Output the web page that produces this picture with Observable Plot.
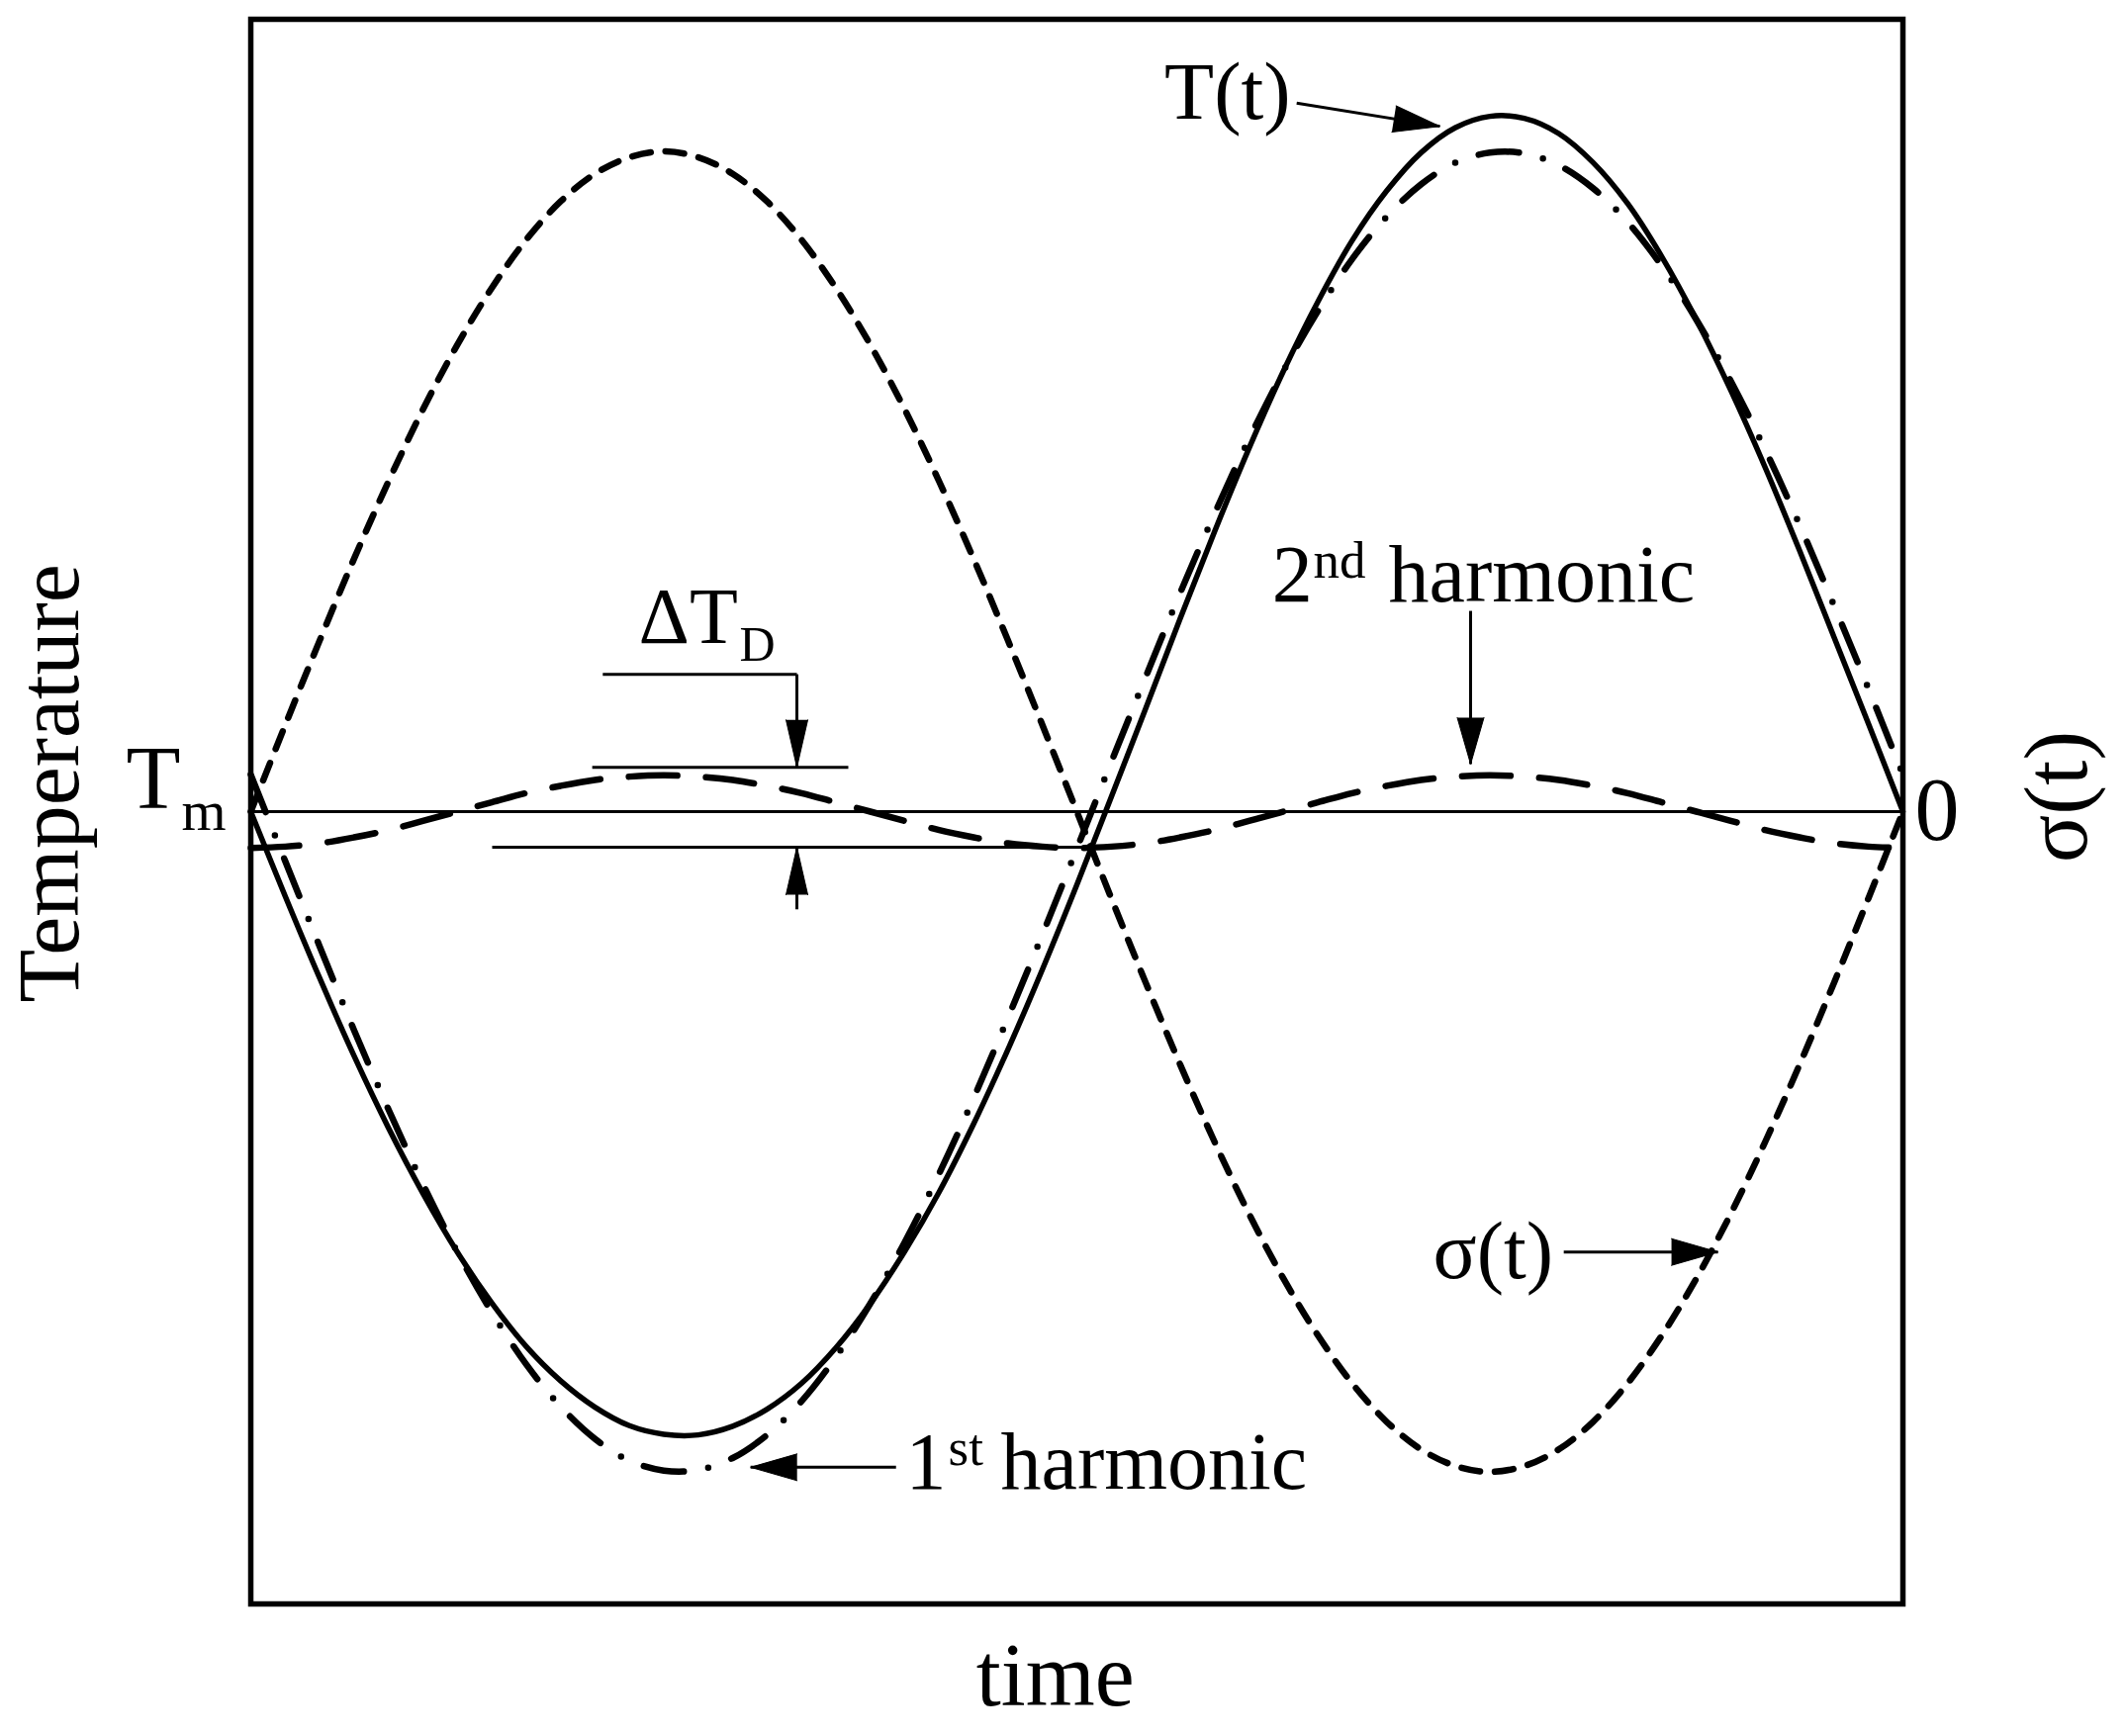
<!DOCTYPE html>
<html>
<head>
<meta charset="utf-8">
<script src="https://cdn.jsdelivr.net/npm/d3@7"></script>
<script src="https://cdn.jsdelivr.net/npm/@observablehq/plot@0.6"></script>
<style>
  html, body { margin: 0; padding: 0; background: #fff; }
  #chart svg { display: block; }
</style>
</head>
<body>
<div id="chart"></div>
<script>
// ---- data (phase in degrees over one period, values in units of the stress amplitude) ----
const phase = [0, 7.5, 15, 22.5, 30, 37.5, 45, 52.5, 60, 67.5, 75, 82.5, 90, 97.5, 105, 112.5, 120, 127.5, 135, 142.5, 150, 157.5, 165, 172.5, 180,
  187.5, 195, 202.5, 210, 217.5, 225, 232.5, 240, 247.5, 255, 262.5, 270, 277.5, 285, 292.5, 300, 307.5, 315, 322.5, 330, 337.5, 345, 352.5, 360];
const sigma = [0, 0.131, 0.259, 0.383, 0.5, 0.609, 0.707, 0.793, 0.866, 0.924, 0.966, 0.991, 1, 0.991, 0.966, 0.924, 0.866, 0.793, 0.707, 0.609, 0.5, 0.383, 0.259, 0.131, 0,
  -0.131, -0.259, -0.383, -0.5, -0.609, -0.707, -0.793, -0.866, -0.924, -0.966, -0.991, -1, -0.991, -0.966, -0.924, -0.866, -0.793, -0.707, -0.609, -0.5, -0.383, -0.259, -0.131, 0];
const harmonic1 = [0.056, -0.075, -0.204, -0.331, -0.451, -0.564, -0.667, -0.758, -0.837, -0.901, -0.950, -0.983, -0.998, -0.997, -0.979, -0.944, -0.893, -0.826, -0.745, -0.652, -0.548, -0.434, -0.312, -0.186, -0.056,
  0.075, 0.204, 0.331, 0.451, 0.564, 0.667, 0.758, 0.837, 0.901, 0.950, 0.983, 0.998, 0.997, 0.979, 0.944, 0.893, 0.826, 0.745, 0.652, 0.548, 0.434, 0.312, 0.186, 0.056];
const harmonic2 = [-0.055, -0.053, -0.048, -0.039, -0.028, -0.014, 0, 0.014, 0.028, 0.039, 0.048, 0.053, 0.055, 0.053, 0.048, 0.039, 0.028, 0.014, 0, -0.014, -0.028, -0.039, -0.048, -0.053, -0.055,
  -0.053, -0.048, -0.039, -0.028, -0.014, 0, 0.014, 0.028, 0.039, 0.048, 0.053, 0.055, 0.053, 0.048, 0.039, 0.028, 0.014, 0, -0.014, -0.028, -0.039, -0.048, -0.053, -0.055];
const temperature = [0, -0.128, -0.252, -0.370, -0.479, -0.578, -0.667, -0.744, -0.810, -0.862, -0.902, -0.930, -0.943, -0.944, -0.931, -0.905, -0.866, -0.812, -0.745, -0.666, -0.576, -0.473, -0.360, -0.239, -0.111,
  0.022, 0.156, 0.292, 0.424, 0.550, 0.667, 0.772, 0.865, 0.940, 0.998, 1.036, 1.053, 1.050, 1.027, 0.983, 0.921, 0.840, 0.745, 0.638, 0.521, 0.395, 0.264, 0.133, 0];

// ---- ΔT_D reference levels (peak and trough of the 2nd harmonic) ----
const deltaTopLevel = 0.067;
const deltaBottomLevel = -0.054;

// ---- annotation anchors (phase, value) ----
const leaderLines = [
  {x1: 227.9, y1: 1.073, x2: 259.1, y2: 1.038},      // T(t)
  {x1: 265.8, y1: 0.304, x2: 265.8, y2: 0.072},      // 2nd harmonic
  {x1: 286.1, y1: -0.667, x2: 319.7, y2: -0.667},    // σ(t)
  {x1: 140.6, y1: -0.993, x2: 108.9, y2: -0.993},    // 1st harmonic
  {x1: 76.7, y1: 0.208, x2: 119.0, y2: 0.208},       // ΔT_D leader
  {x1: 119.0, y1: 0.208, x2: 119.0, y2: deltaTopLevel},
  {x1: 119.0, y1: -0.148, x2: 119.0, y2: deltaBottomLevel},
  {x1: 74.4, y1: deltaTopLevel, x2: 130.2, y2: deltaTopLevel},
  {x1: 52.6, y1: deltaBottomLevel, x2: 182.6, y2: deltaBottomLevel}
];
const bigHeads = [
  {x: 259.1, y: 1.038, rot: 99},
  {x: 265.8, y: 0.072, rot: 180},
  {x: 319.7, y: -0.667, rot: 90},
  {x: 108.9, y: -0.993, rot: 270}
];
const smallHeads = [
  {x: 119.0, y: deltaTopLevel, rot: 180},
  {x: 119.0, y: deltaBottomLevel, rot: 0}
];
const startLabels = [
  {t: "T(t)", x: 199.1, y: 1.050, s: 82},
  {t: "2", x: 222.5, y: 0.319, s: 82},
  {t: "nd", x: 231.5, y: 0.355, s: 53},
  {t: "harmonic", x: 247.9, y: 0.319, s: 82},
  {t: "1", x: 142.7, y: -1.026, s: 82},
  {t: "st", x: 152.0, y: -0.990, s: 53},
  {t: "harmonic", x: 163.4, y: -1.026, s: 82},
  {t: "σ(t)", x: 257.6, y: -0.706, s: 82},
  {t: "ΔT", x: 84.5, y: 0.255, s: 80},
  {t: "D", x: 106.5, y: 0.228, s: 50},
  {t: "0", x: 362.6, y: -0.043, s: 90},
  {t: "m", x: -15.1, y: -0.027, s: 58}
];
const endLabels = [
  {t: "T", x: -15.3, y: 0.0045, s: 90}
];
const middleLabels = [
  {t: "time", x: 175.3, y: -1.354, s: 90, r: 0},
  {t: "Temperature", x: -37.7, y: 0.043, s: 88, r: -90},
  {t: "σ(t)", x: 399.9, y: 0.0225, s: 90, r: -90}
];

const rows = phase.map((p, i) => ({
  phase: p, sigma: sigma[i], harmonic1: harmonic1[i], harmonic2: harmonic2[i], temperature: temperature[i]
}));

const FONT = "Liberation Serif, 'Times New Roman', Times, serif";

const chart = Plot.plot({
  width: 2149,
  height: 1755,
  marginLeft: 253,
  marginRight: 226,
  marginTop: 19,
  marginBottom: 134,
  x: {domain: [0, 360], axis: null},
  y: {domain: [-1.2, 1.2], axis: null},
  length: {type: "identity"},
  style: {fontFamily: FONT, background: "white", color: "black"},
  marks: [
    Plot.ruleY([0], {stroke: "black", strokeWidth: 3}),
    Plot.line(rows, {x: "phase", y: "sigma", curve: "catmull-rom", stroke: "black",
      strokeWidth: 6.5, strokeDasharray: "19,15", strokeLinecap: "round"}),
    Plot.line(rows, {x: "phase", y: "harmonic1", curve: "catmull-rom", stroke: "black",
      strokeWidth: 6.5, strokeDasharray: "41,25,0,25", strokeLinecap: "round"}),
    Plot.line(rows, {x: "phase", y: "harmonic2", curve: "catmull-rom", stroke: "black",
      strokeWidth: 6.5, strokeDasharray: "49,29", strokeLinecap: "round"}),
    Plot.line(rows, {x: "phase", y: "temperature", curve: "catmull-rom", stroke: "black",
      strokeWidth: 5.5}),
    Plot.link(leaderLines, {x1: "x1", y1: "y1", x2: "x2", y2: "y2", stroke: "black", strokeWidth: 3}),
    Plot.vector(bigHeads, {x: "x", y: "y", rotate: "rot", length: 47, r: 13.5, shape: "spike",
      anchor: "end", fill: "black", stroke: "black", strokeWidth: 1}),
    Plot.vector(smallHeads, {x: "x", y: "y", rotate: "rot", length: 48, r: 11, shape: "spike",
      anchor: "end", fill: "black", stroke: "black", strokeWidth: 1}),
    Plot.text(startLabels, {x: "x", y: "y", text: "t", fontSize: "s", textAnchor: "start",
      lineAnchor: "bottom", fontFamily: FONT, fill: "black"}),
    Plot.text(endLabels, {x: "x", y: "y", text: "t", fontSize: "s", textAnchor: "end",
      lineAnchor: "bottom", fontFamily: FONT, fill: "black"}),
    Plot.text(middleLabels, {x: "x", y: "y", text: "t", fontSize: "s", rotate: "r", textAnchor: "middle",
      lineAnchor: "bottom", fontFamily: FONT, fill: "black"}),
    Plot.frame({stroke: "black", strokeWidth: 5.5})
  ]
});

document.getElementById("chart").appendChild(chart);
</script>
</body>
</html>
